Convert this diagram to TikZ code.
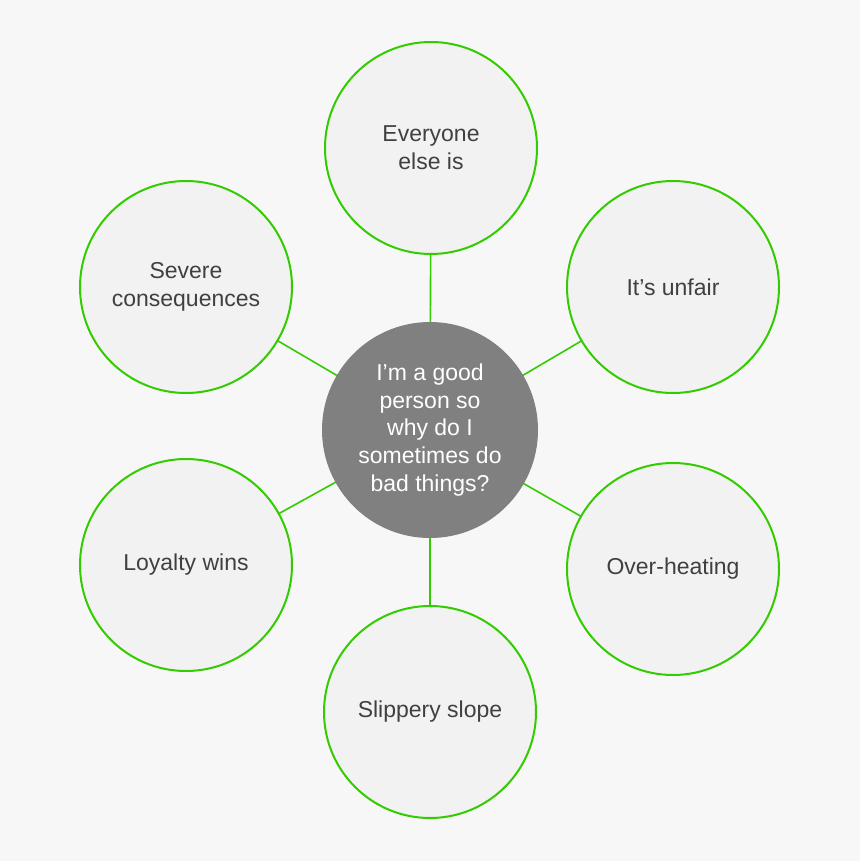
\documentclass[tikz,border=0pt]{standalone}
\usepackage{fontspec}
\setmainfont{Liberation Sans}
\usetikzlibrary{positioning}
\definecolor{bggray}{HTML}{F7F7F7}
\definecolor{leafgray}{HTML}{F2F2F2}
\definecolor{hubgray}{HTML}{808080}
\definecolor{ringgreen}{HTML}{33CC00}
\definecolor{textgray}{HTML}{404040}

\begin{document}
\begin{tikzpicture}[
  x=1pt,y=-1pt,
  every node/.style={font=\fontsize{23}{27.8}\selectfont,align=center,
    execute at begin node={\vspace*{5pt}}},
  hub/.style={circle,fill=hubgray,text=white,minimum size=216pt,inner sep=0pt},
  leaf/.style={circle,draw=ringgreen,line width=2pt,fill=leafgray,text=textgray,
    minimum size=212pt,inner sep=0pt},
  link/.style={draw=ringgreen,line width=1.6pt}
]
  \fill[bggray] (0,0) rectangle (860,861);
  \useasboundingbox (0,0) rectangle (860,861);

  % spokes first, so the circles sit on top
  \coordinate (c) at (430,430);
  \coordinate (ctop) at (431,148);
  \coordinate (ctr) at (673,287);
  \coordinate (cbr) at (673,569);
  \coordinate (cbot) at (430,712);
  \coordinate (cbl) at (186,565);
  \coordinate (ctl) at (186,287);
  \foreach \p in {ctop,ctr,cbr,cbot,cbl,ctl}
    \draw[link] (c) -- (\p);

  \node[leaf] (top) at (ctop) {Everyone\\else is};
  \node[leaf] (tr) at (ctr) {It’s unfair};
  \node[leaf] (br) at (cbr) {Over-heating};
  \node[leaf] (bot) at (cbot) {Slippery slope};
  \node[leaf] (bl) at (cbl) {Loyalty wins};
  \node[leaf] (tl) at (ctl) {Severe\\consequences};
  \node[hub] (hub) at (c)
    {I’m a good\\person so\\why do I\\sometimes do\\bad things?};
\end{tikzpicture}
\end{document}
